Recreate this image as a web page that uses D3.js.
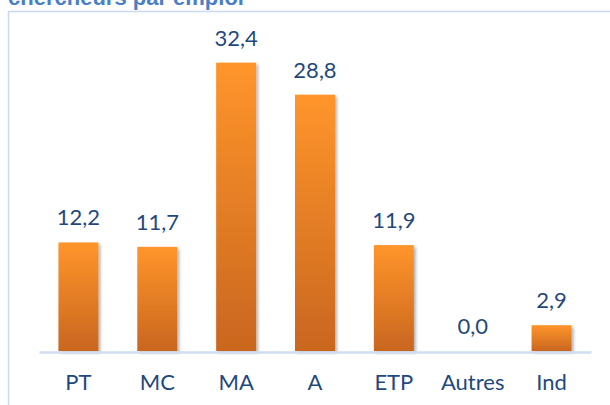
<!DOCTYPE html>
<html>
<head>
<meta charset="utf-8">
<script src="https://cdn.jsdelivr.net/npm/d3@7"></script>
<style>
  body { margin: 0; background: #fff; }
</style>
</head>
<body>
<script>
// Chart data
var categories = ["PT", "MC", "MA", "A", "ETP", "Autres", "Ind"];
var values = [12.2, 11.7, 32.4, 28.8, 11.9, 0.0, 2.9];
var valueLabels = ["12,2", "11,7", "32,4", "28,8", "11,9", "0,0", "2,9"];
var titleText = "chercheurs par emploi";

var svgWidth = 610;
var svgHeight = 405;

var svg = d3.select("body")
  .append("svg")
  .attr("width", svgWidth)
  .attr("height", svgHeight);

// gradient + shadow for bars
var defs = svg.append("defs");
var grad = defs.append("linearGradient")
  .attr("id", "barGrad")
  .attr("x1", 0).attr("y1", 0).attr("x2", 0).attr("y2", 1);
grad.append("stop").attr("offset", "0%").attr("stop-color", "#ff952b");
grad.append("stop").attr("offset", "100%").attr("stop-color", "#c9661f");

var shadow = defs.append("filter")
  .attr("id", "shadow")
  .attr("x", "-20%").attr("y", "-10%")
  .attr("width", "150%").attr("height", "130%");
shadow.append("feDropShadow")
  .attr("dx", 2).attr("dy", 2)
  .attr("stdDeviation", 1.5)
  .attr("flood-color", "#000")
  .attr("flood-opacity", 0.3);

// title (partly cut off at top, as in the original)
svg.append("text")
  .attr("x", 8)
  .attr("y", 5)
  .style("font-family", "'Liberation Sans', Arial, sans-serif")
  .style("font-weight", "bold")
  .style("font-size", "22px")
  .style("fill", "#4a7fc6")
  .text(titleText);

// frame
svg.append("path")
  .attr("d", "M8.5,410 L8.5,11.5 L612,11.5")
  .attr("fill", "none")
  .attr("stroke", "#c9daf0")
  .attr("stroke-width", 1.5);

var xBandScale = d3.scaleBand()
  .domain(categories)
  .range([39, 591])
  .paddingInner(0.493)
  .paddingOuter(0.2465);

var yLinearScale = d3.scaleLinear()
  .domain([0, 35])
  .range([351, 39.5]);

var labelFont = "Lato, 'Open Sans', sans-serif";
var textColor = "#1f497d";

// bars
svg.selectAll(".bar")
  .data(values)
  .enter()
  .append("rect")
  .classed("bar", true)
  .attr("x", (d, i) => xBandScale(categories[i]))
  .attr("y", d => yLinearScale(d))
  .attr("width", xBandScale.bandwidth())
  .attr("height", d => yLinearScale(0) - yLinearScale(d))
  .attr("fill", "url(#barGrad)")
  .attr("filter", "url(#shadow)");

// baseline axis
var bottomAxis = d3.axisBottom(xBandScale).tickSize(0).tickPadding(22);
var axisG = svg.append("g")
  .attr("transform", `translate(0, ${yLinearScale(0) + 1})`)
  .call(bottomAxis);
axisG.select(".domain")
  .attr("stroke", "#d0deef")
  .attr("stroke-width", 2.5);
axisG.selectAll("text")
  .attr("dy", 0)
  .style("font-family", labelFont)
  .style("font-size", "22px")
  .style("fill", textColor);
axisG.selectAll(".tick text").attr("y", 38);

// value labels
svg.selectAll(".val")
  .data(values)
  .enter()
  .append("text")
  .classed("val", true)
  .attr("x", (d, i) => xBandScale(categories[i]) + xBandScale.bandwidth() / 2)
  .attr("y", d => yLinearScale(d) - 17)
  .attr("text-anchor", "middle")
  .style("font-family", labelFont)
  .style("font-size", "22px")
  .style("fill", textColor)
  .text((d, i) => valueLabels[i]);
</script>
</body>
</html>
